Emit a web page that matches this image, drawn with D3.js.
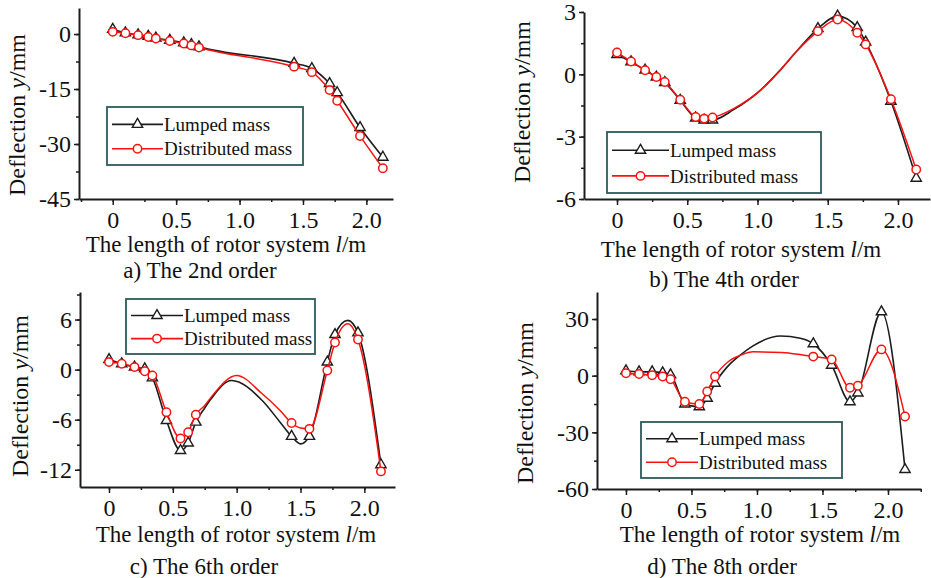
<!DOCTYPE html>
<html>
<head>
<meta charset="utf-8">
<script src="https://cdn.jsdelivr.net/npm/d3@7"></script>
<style>
  body { margin: 0; background: #fff; }
  svg { display: block; }
  text { font-family: "Liberation Serif", "Times New Roman", serif; fill: #111; }
</style>
</head>
<body>
<svg width="931" height="578"></svg>
<script>
// node positions along the rotor (m), same for all four modes
const nodeX = [0, 0.1, 0.2, 0.28, 0.34, 0.45, 0.56, 0.62, 0.68, 1.43, 1.57, 1.71, 1.77, 1.95, 2.13];

// deflection at the nodes (mm)
const lumped2 = [1.3, 0.3, -0.2, -0.6, -1.1, -1.7, -2.4, -2.9, -3.5, -8.0, -9.4, -13.5, -16.0, -25.5, -33.6];
const distributed2 = [0.6, 0.2, -0.3, -0.8, -1.2, -1.9, -2.6, -3.1, -3.7, -8.9, -10.4, -15.3, -18.2, -27.8, -36.6];
const lumped4 = [0.95, 0.6, 0.2, -0.13, -0.4, -1.25, -2.1, -2.2, -2.2, 2.2, 2.8, 2.25, 1.55, -1.3, -5.0];
const distributed4 = [1.05, 0.62, 0.2, -0.13, -0.37, -1.22, -2.05, -2.13, -2.08, 2.07, 2.64, 2.0, 1.44, -1.2, -4.58];
const lumped6 = [1.2, 0.7, 0.3, 0.1, -1.0, -6.1, -9.7, -8.8, -6.3, -8.0, -8.0, 0.9, 4.2, 4.4, -11.4];
const distributed6 = [0.9, 0.7, 0.3, -0.2, -0.7, -5.1, -8.25, -7.5, -5.4, -6.4, -7.1, -0.1, 3.25, 3.6, -12.2];
const lumped8 = [2.6, 2.0, 2.0, 1.5, 0.5, -15.0, -16.5, -12.0, -4.0, 16.9, 5.5, -13.8, -9.2, 33.8, -49.7];
const distributed8 = [1.3, 0.9, 0.2, -0.4, -1.9, -13.8, -15.0, -8.4, -0.4, 10.1, 8.6, -6.4, -5.3, 13.9, -21.6];

const lumped2Curve = [];
const distributed2Curve = [];
const lumped4Curve = [[0.83, -1.7], [1.02, -0.77], [1.16, 0.19], [1.28, 1.12]];
const distributed4Curve = [[0.83, -1.65], [1.02, -0.77], [1.16, 0.19], [1.28, 1.12]];
const lumped6Curve = [[0.75, -4.6], [0.8, -3.5], [0.96, -1.3], [1.2, -3.7], [1.34, -6.3], [1.5, -8.9], [1.87, 5.9]];
const distributed6Curve = [[0.75, -4.3], [0.8, -3.3], [1.0, -0.7], [1.2, -2.9], [1.34, -4.9], [1.5, -7.0], [1.87, 5.5]];
const lumped8Curve = [[0.77, 4.4], [0.87, 10.8], [0.97, 15.8], [1.18, 21.0], [1.33, 19.8]];
const distributed8Curve = [[0.79, 7.9], [0.88, 11.0], [0.97, 12.6], [1.19, 12.3], [1.36, 10.8]];

const xTicks = [0, 0.5, 1.0, 1.5, 2.0];
const yTicks2 = [0, -15, -30, -45];
const yTicks4 = [3, 0, -3, -6];
const yTicks6 = [6, 0, -6, -12];
const yTicks8 = [30, 0, -30, -60];
const seriesNames = ["Lumped mass", "Distributed mass"];
const captions = ["a) The 2nd order", "b) The 4th order", "c) The 6th order", "d) The 8th order"];

const panels = [
  { lumped: lumped2, dist: distributed2, lc: lumped2Curve, dc: distributed2Curve, yTicks: yTicks2, caption: captions[0],
    xd: [-0.266, 2.21], xr: [79, 393], yd: [-45, 7.1], yr: [199, 8],
    legend: { x: 107, y: 107, w: 196, h: 58, sample: 51 },
    yTitle: [25, 115], xTitle: [226, 252], cap: [200, 278] },
  { lumped: lumped4, dist: distributed4, lc: lumped4Curve, dc: distributed4Curve, yTicks: yTicks4, caption: captions[1],
    xd: [-0.235, 2.228], xr: [584, 930], yd: [-6, 3], yr: [199, 12],
    legend: { x: 607, y: 132, w: 214, h: 61, sample: 57 },
    yTitle: [530, 102], xTitle: [741, 257], cap: [724, 287] },
  { lumped: lumped6, dist: distributed6, lc: lumped6Curve, dc: distributed6Curve, yTicks: yTicks6, caption: captions[2],
    xd: [-0.227, 2.24], xr: [80, 395], yd: [-14.07, 9.3], yr: [487, 292],
    legend: { x: 126, y: 299, w: 189, h: 55, sample: 52 },
    yTitle: [28, 396], xTitle: [236, 542], cap: [204, 574] },
  { lumped: lumped8, dist: distributed8, lc: lumped8Curve, dc: distributed8Curve, yTicks: yTicks8, caption: captions[3],
    xd: [-0.221, 2.252], xr: [597, 921], yd: [-60, 44.3], yr: [489, 292],
    legend: { x: 641, y: 422, w: 201, h: 56, sample: 52 },
    yTitle: [533, 403], xTitle: [760, 542], cap: [722, 574] }
];

const BLACK = "#1c1c1c", RED = "#ff1010", BOX = "#2d5b5b";
const svg = d3.select("svg");
const tri = d3.symbol().type(d3.symbolTriangle).size(46);

function minorTicks(domain, step) {
  const out = [];
  const start = Math.ceil(domain[0] / step);
  for (let i = start; i * step <= domain[1] + 1e-9; i++) out.push(+(i * step).toFixed(4));
  return out;
}

function drawMarkerTri(g, x, y, color) {
  g.append("path").attr("d", tri).attr("transform", `translate(${x},${y})`)
    .attr("fill", "#fff").attr("stroke", color).attr("stroke-width", 1.4);
}
function drawMarkerCircle(g, x, y, color) {
  g.append("circle").attr("cx", x).attr("cy", y).attr("r", 4.2)
    .attr("fill", "#fff").attr("stroke", color).attr("stroke-width", 1.5);
}

panels.forEach(p => {
  const g = svg.append("g");
  const x = d3.scaleLinear().domain(p.xd).range(p.xr);
  const y = d3.scaleLinear().domain(p.yd).range(p.yr);
  const x0 = p.xr[0], y0 = p.yr[0];

  // minor ticks
  const yStep = Math.abs(p.yTicks[0] - p.yTicks[1]) / 2;
  g.append("g").attr("transform", `translate(${x0},0)`)
    .call(d3.axisLeft(y).tickValues(minorTicks(p.yd, yStep)).tickSize(3).tickSizeOuter(0).tickFormat(""))
    .call(a => a.select(".domain").remove())
    .call(a => a.selectAll("line").attr("stroke", BLACK).attr("stroke-width", 1.5));
  g.append("g").attr("transform", `translate(0,${y0})`)
    .call(d3.axisBottom(x).tickValues(minorTicks(p.xd, 0.25)).tickSize(3).tickSizeOuter(0).tickFormat(""))
    .call(a => a.select(".domain").remove())
    .call(a => a.selectAll("line").attr("stroke", BLACK).attr("stroke-width", 1.5));

  // major axes
  const yAxis = g.append("g").attr("transform", `translate(${x0},0)`)
    .call(d3.axisLeft(y).tickValues(p.yTicks).tickSize(5).tickPadding(3).tickSizeOuter(0).tickFormat(d => String(d)));
  const xAxis = g.append("g").attr("transform", `translate(0,${y0})`)
    .call(d3.axisBottom(x).tickValues(xTicks).tickSize(6).tickPadding(6).tickSizeOuter(0)
      .tickFormat(d => d === 0 ? "0" : d.toFixed(1)));
  [yAxis, xAxis].forEach(a => {
    a.attr("font-family", null);
    a.select(".domain").attr("stroke", BLACK).attr("stroke-width", 2);
    a.selectAll("line").attr("stroke", BLACK).attr("stroke-width", 1.5);
    a.selectAll("text").attr("font-size", 24).attr("fill", "#111");
  });

  // curves
  const line = d3.line().x(d => x(d[0])).y(d => y(d[1])).curve(d3.curveMonotoneX);
  const lumpedPts = nodeX.map((v, i) => [v, p.lumped[i]]);
  const distPts = nodeX.map((v, i) => [v, p.dist[i]]);
  const lumpedLine = lumpedPts.concat(p.lc).sort((a, b) => a[0] - b[0]);
  const distLine = distPts.concat(p.dc).sort((a, b) => a[0] - b[0]);

  g.append("path").attr("d", line(lumpedLine)).attr("fill", "none").attr("stroke", BLACK).attr("stroke-width", 1.6);
  lumpedPts.forEach(d => drawMarkerTri(g, x(d[0]), y(d[1]), BLACK));
  g.append("path").attr("d", line(distLine)).attr("fill", "none").attr("stroke", RED).attr("stroke-width", 1.5);
  distPts.forEach(d => drawMarkerCircle(g, x(d[0]), y(d[1]), RED));

  // legend
  const L = p.legend;
  g.append("rect").attr("x", L.x).attr("y", L.y).attr("width", L.w).attr("height", L.h)
    .attr("fill", "#fff").attr("stroke", BOX).attr("stroke-width", 1.8);
  [0.3, 0.72].forEach((f, i) => {
    const ry = L.y + L.h * f;
    const col = i === 0 ? BLACK : RED;
    g.append("line").attr("x1", L.x + 5).attr("x2", L.x + 5 + L.sample).attr("y1", ry).attr("y2", ry)
      .attr("stroke", col).attr("stroke-width", 1.6);
    const cx = L.x + 5 + L.sample / 2;
    if (i === 0) drawMarkerTri(g, cx, ry, col); else drawMarkerCircle(g, cx, ry, col);
    g.append("text").attr("x", L.x + L.sample + 6).attr("y", ry).attr("dy", "0.35em")
      .attr("font-size", 19).text(seriesNames[i]);
  });

  // titles
  const yt = g.append("text").attr("transform", `translate(${p.yTitle[0]},${p.yTitle[1]}) rotate(-90)`)
    .attr("text-anchor", "middle").attr("font-size", 24);
  yt.append("tspan").text("Deflection ");
  yt.append("tspan").attr("font-style", "italic").text("y");
  yt.append("tspan").text("/mm");

  const xt = g.append("text").attr("x", p.xTitle[0]).attr("y", p.xTitle[1])
    .attr("text-anchor", "middle").attr("font-size", 23);
  xt.append("tspan").text("The length of rotor system ");
  xt.append("tspan").attr("font-style", "italic").text("l");
  xt.append("tspan").text("/m");

  g.append("text").attr("x", p.cap[0]).attr("y", p.cap[1]).attr("text-anchor", "middle")
    .attr("font-size", 23).text(p.caption);
});
</script>
</body>
</html>
